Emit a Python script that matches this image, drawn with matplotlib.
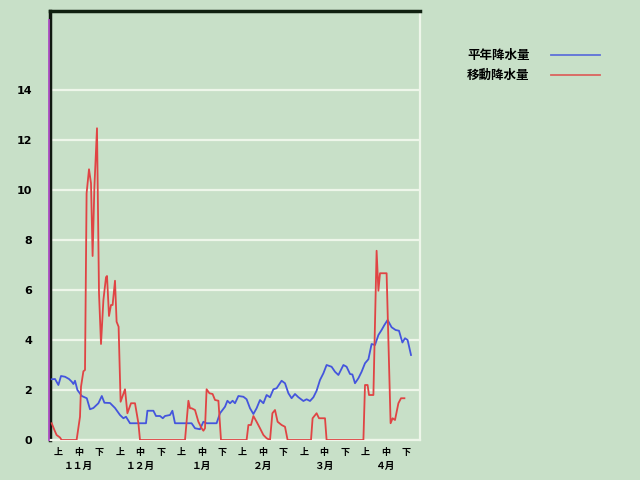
import numpy as np
import matplotlib
matplotlib.use("Agg")
import matplotlib.pyplot as plt
from matplotlib.lines import Line2D

plt.rcParams['font.family'] = ['Noto Sans CJK JP', 'DejaVu Sans']

# ---- data (day index from Nov 1, value in mm) ----
normal_days = [0.85, 2.5, 4.2, 5.5, 7.5, 9.5, 10.9, 11.7, 12.5, 13.7, 15.9, 18.4, 20, 21.7, 24.2,
               25.9, 27.2, 30, 32.5, 35, 36.7, 38, 40, 48, 48.7, 51.7, 53, 55, 56.4, 57.5, 60,
               61.2, 62.5, 70.8, 72.5, 75, 76.7, 78.3, 83.3, 85, 87.5, 88.7, 90, 91.3, 92.5,
               94.2, 96.7, 98.3, 100, 101.7, 103.3, 105, 106.7, 108.3, 110, 111.7, 113.3, 115.8,
               117.5, 119.2, 120.8, 122.5, 124.2, 126.7, 128.3, 130, 131.7, 133.3, 135, 136.7,
               138.3, 140.8, 142.5, 144.2, 146.7, 148.3, 150, 151.2, 152.5, 154.2, 155.8, 157.5,
               159.2, 160.8, 162.5, 164.2, 165.8, 167.2, 168.8, 170.8, 172.8, 174.5, 176.2,
               177.5, 178.8, 180.5]
normal_vals = [2.43, 2.44, 2.2, 2.56, 2.53, 2.44, 2.33, 2.24, 2.37, 2.0, 1.76, 1.67, 1.23, 1.28, 1.47,
               1.76, 1.49, 1.48, 1.28, 1.0, 0.87, 0.93, 0.67, 0.67, 1.17, 1.17, 0.96, 0.96, 0.87, 0.96, 1.0,
               1.17, 0.67, 0.67, 0.47, 0.43, 0.73, 0.67, 0.67, 1.07, 1.33, 1.57, 1.47, 1.57, 1.47,
               1.76, 1.73, 1.63, 1.27, 1.04, 1.27, 1.6, 1.47, 1.8, 1.71, 2.03, 2.07, 2.37,
               2.27, 1.87, 1.67, 1.84, 1.71, 1.56, 1.63, 1.56, 1.71, 1.97, 2.4, 2.67,
               3.0, 2.93, 2.73, 2.6, 3.0, 2.93, 2.64, 2.62, 2.27, 2.47, 2.73, 3.07,
               3.23, 3.84, 3.8, 4.2, 4.4, 4.6, 4.8, 4.51, 4.4, 4.37, 3.9,
               4.07, 4.0, 3.4]

moving_days = [0.85, 2.2, 3.3, 5, 5.8, 13.3, 15, 15.5, 16.7, 17.5, 18.3, 19.5, 20.5, 21.3, 22.2,
               23.5, 24.5, 25.5, 26.7, 28, 28.5, 29.5, 30.5, 31.3, 32.5, 33.3, 34.3, 35.3, 37.5,
               38.7, 40.5, 42.5, 44.2, 45, 67.5, 69.2, 70, 70.8, 72.5, 74.2, 75.8, 76.7, 77.5,
               78.3, 79.7, 81.3, 82.5, 84.2, 85.5, 98.3, 99.2, 100.5, 101.7, 103.3, 105, 106.7,
               108.3, 110, 111.2, 112.5, 113.8, 115.8, 117.5, 118.8, 130.5, 131.3, 133.3, 134.5,
               137.5, 138.3, 156.7, 157.5, 158.8, 159.5, 161.7, 163.3, 164.2, 165, 168.3, 170.3,
               171.3, 172.5, 174.2, 175.5, 177.2]
moving_vals = [0.67, 0.4, 0.2, 0.1, 0, 0, 0.93, 2.13, 2.75, 2.8, 9.87, 10.83, 10.27, 7.36, 10.13,
               12.47, 5.87, 3.84, 5.6, 6.51, 6.56, 4.96, 5.4, 5.4, 6.37, 4.73, 4.53, 1.53, 2.03,
               1.07, 1.47, 1.47, 0.67, 0, 0, 1.57, 1.27, 1.27, 1.2, 0.73, 0.47, 0.37, 0.47,
               2.03, 1.87, 1.84, 1.6, 1.57, 0, 0, 0.6, 0.6, 0.96, 0.73, 0.47, 0.2,
               0.07, 0, 1.07, 1.2, 0.73, 0.6, 0.53, 0, 0, 0.87, 1.07, 0.87,
               0.87, 0, 0, 2.2, 2.2, 1.8, 1.8, 7.57, 5.97, 6.67, 6.67, 0.67,
               0.87, 0.8, 1.47, 1.67, 1.67]

dekad_labels = ['上', '中', '下'] * 6
month_labels = ['１１月', '１２月', '１月', '２月', '３月', '４月']
y_ticks = [0, 2, 4, 6, 8, 10, 12, 14]
series_names = ['平年降水量', '移動降水量']

bg = '#C8E0C8'
blue = '#4455DD'
red = '#E04444'

fig = plt.figure(figsize=(6.4, 4.8), dpi=100, facecolor=bg)
ax = fig.add_axes([50/640, 1-440/480, 370/640, 429/480], facecolor=bg)

ax.plot(normal_days, normal_vals, color=blue, lw=1.3, zorder=3)
ax.plot(moving_days, moving_vals, color=red, lw=1.3, zorder=3)

ax.set_xlim(0, 185)
ax.set_ylim(0, 429/25)

ax.tick_params(axis='y', length=0, pad=13, labelsize=8)
ax.tick_params(axis='x', which='major', length=0, pad=6, labelsize=6.5)
ax.tick_params(axis='x', which='minor', length=0, pad=15, labelsize=7)

ax.set_yticks(y_ticks)
ax.set_yticklabels([str(v) for v in y_ticks], fontweight='bold', family='DejaVu Sans')
ax.yaxis.grid(True, color='#EEF6EA', lw=1.6)
ax.set_axisbelow(True)

dek_pos = [4.2 + 10.22 * i for i in range(18)]
ax.xaxis.remove_overlapping_locs = False
ax.set_xticks(dek_pos)
ax.set_xticklabels(dekad_labels, fontweight='bold')
ax.set_xticks([dek_pos[3 * i + 1] for i in range(6)], minor=True)
ax.set_xticklabels(month_labels, minor=True, fontweight='bold')

for s in ['bottom', 'right']:
    ax.spines[s].set_color('#EEF6EA')
    ax.spines[s].set_linewidth(1.6)
ax.spines['left'].set_color('#101810')
ax.spines['left'].set_linewidth(2.5)
ax.spines['top'].set_color('#102010')
ax.spines['top'].set_linewidth(2.5)

# purple marker line just left of axis
fig.add_artist(Line2D([48.8/640, 48.8/640], [1-440/480, 1-20/480], color='#B050C8', lw=1.3))

# legend
for i, (name, col) in enumerate(zip(series_names, [blue, red])):
    yy = 1 - (55 + 20 * i) / 480
    fig.text(467/640, yy, name, fontsize=9, fontweight='bold', ha='left', va='center')
    fig.add_artist(Line2D([551/640, 600/640], [yy, yy], color=col, lw=1.3, alpha=0.8))

fig.savefig('out.png', dpi=100, facecolor=bg)
